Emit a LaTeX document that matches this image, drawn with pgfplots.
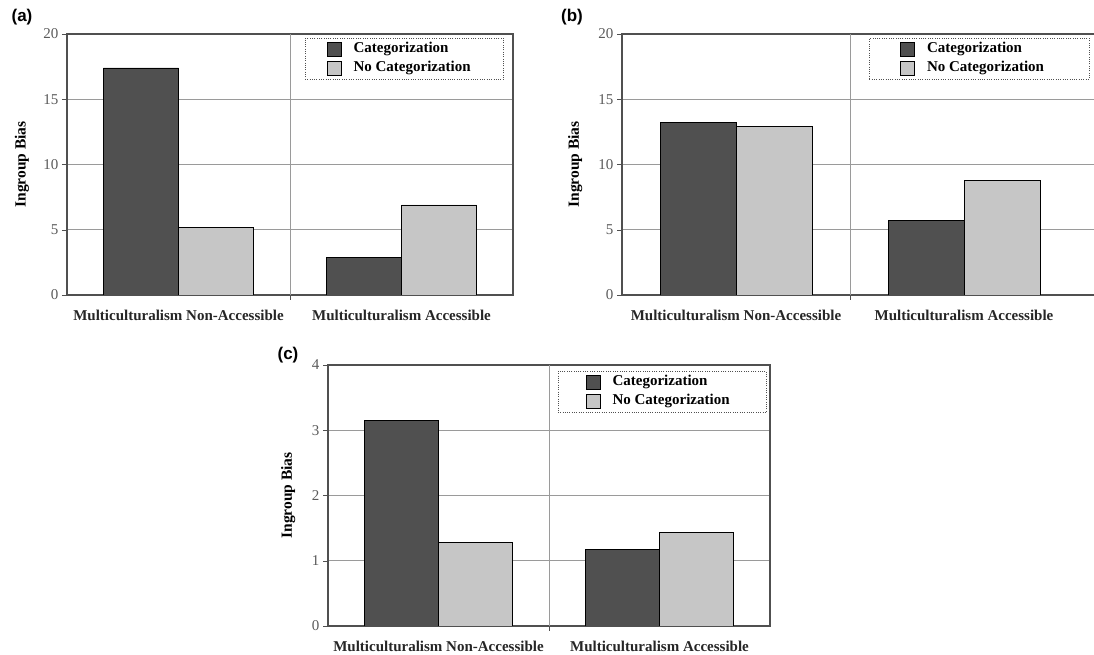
\documentclass[border=0pt]{standalone}
\usepackage{fontspec}
\setmainfont{Liberation Serif}
\setsansfont{Liberation Sans}
\usepackage{pgfplots}
\pgfplotsset{compat=1.18}
\definecolor{darkbar}{HTML}{505050}
\definecolor{lightbar}{HTML}{C6C6C6}
\definecolor{axisgray}{HTML}{505050}
\definecolor{gridgray}{HTML}{9A9A9A}
\definecolor{ticktext}{HTML}{5A5A5A}
\pgfplotsset{
  panel/.style={
    scale only axis,
    ybar=0pt,
    ymin=0,
    xtick={0,1},
    xticklabels={Multiculturalism Non-Accessible, Multiculturalism Accessible},
    x tick label style={font=\fontsize{15}{18}\selectfont\bfseries, text=black!85, yshift=-7pt},
    y tick label style={font=\fontsize{15}{18}\selectfont, text=ticktext},
    major x tick style={draw=none},
    extra x ticks={0.5},
    extra x tick labels={},
    extra x tick style={grid=major, major tick length=5pt, major x tick style={draw=axisgray}},
    ymajorgrids,
    major grid style={gridgray, line width=0.8pt},
    axis line style={axisgray, line width=1.3pt},
    tick align=outside,
    xtick pos=bottom,
    ytick pos=left,
    ytick style={draw=axisgray},
    major tick length=5pt,
    /pgf/number format/assume math mode=true,
    ylabel={Ingroup Bias},
    ylabel style={font=\fontsize{15.5}{18}\selectfont\bfseries, anchor=center},
    legend cell align=left,
    legend image code/.code={\draw[#1, solid, draw=black, line width=0.6pt] (0pt,-7pt) rectangle (14pt,7pt);},
    legend style={draw=axisgray, dash pattern=on 1pt off 1.3pt, line width=0.9pt, font=\fontsize{15}{18}\selectfont\bfseries, anchor=north east, row sep=1pt, inner ysep=2pt,
      nodes={inner ysep=1.5pt, text height=11pt, text depth=4pt}},
  },
  darkplot/.style={fill=darkbar, draw=black, line width=0.8pt},
  lightplot/.style={fill=lightbar, draw=black, line width=0.8pt},
}
\newcommand{\lent}[2]{\makebox[#1][l]{\hspace*{10pt}#2}}
\begin{document}
\begin{tikzpicture}
\path[use as bounding box] (0pt,0pt) rectangle (1094pt,655pt);
% (a)
\begin{axis}[panel, at={(67pt,360pt)}, anchor=south west,
  width=446pt, height=261pt, xmin=-0.5, xmax=1.5, bar width=75pt,
  ymax=20, ytick={0,5,10,15,20},
  ylabel style={at={(axis description cs:-0.101,0.5)}},
  legend style={at={(1,1)}, xshift=-9pt, yshift=-4pt, inner xsep=22pt}]
\addplot[darkplot] coordinates {(0,17.4) (1,2.9)};
\addplot[lightplot] coordinates {(0,5.2) (1,6.9)};
\legend{\lent{136pt}{Categorization}, \lent{136pt}{No Categorization}}
\end{axis}
% (b)
\begin{axis}[panel, at={(622pt,360pt)}, anchor=south west,
  width=478pt, height=261pt, xmin=-0.5, xmax=1.5965, bar width=76pt,
  ymax=20, ytick={0,5,10,15,20},
  ylabel style={at={(axis description cs:-0.098,0.5)}},
  legend style={at={(rel axis cs:0.978,1)}, yshift=-4pt, inner xsep=31pt}]
\addplot[darkplot] coordinates {(0,13.2) (1,5.7)};
\addplot[lightplot] coordinates {(0,12.9) (1,8.8)};
\legend{\lent{139pt}{Categorization}, \lent{139pt}{No Categorization}}
\end{axis}
% (c)
\begin{axis}[panel, at={(328pt,29pt)}, anchor=south west,
  width=442pt, height=261pt, xmin=-0.5, xmax=1.5, bar width=74pt,
  ymax=4, ytick={0,1,2,3,4},
  ylabel style={at={(axis description cs:-0.09,0.5)}},
  legend style={at={(1,1)}, xshift=-3pt, yshift=-6pt, inner xsep=28pt}]
\addplot[darkplot] coordinates {(0,3.15) (1,1.17)};
\addplot[lightplot] coordinates {(0,1.28) (1,1.43)};
\legend{\lent{134pt}{Categorization}, \lent{134pt}{No Categorization}}
\end{axis}
\node[font=\sffamily\bfseries\fontsize{17}{20}\selectfont] at (22pt,638pt) {(a)};
\node[font=\sffamily\bfseries\fontsize{17}{20}\selectfont] at (572pt,638pt) {(b)};
\node[font=\sffamily\bfseries\fontsize{17}{20}\selectfont] at (288pt,300pt) {(c)};
\end{tikzpicture}
\end{document}
